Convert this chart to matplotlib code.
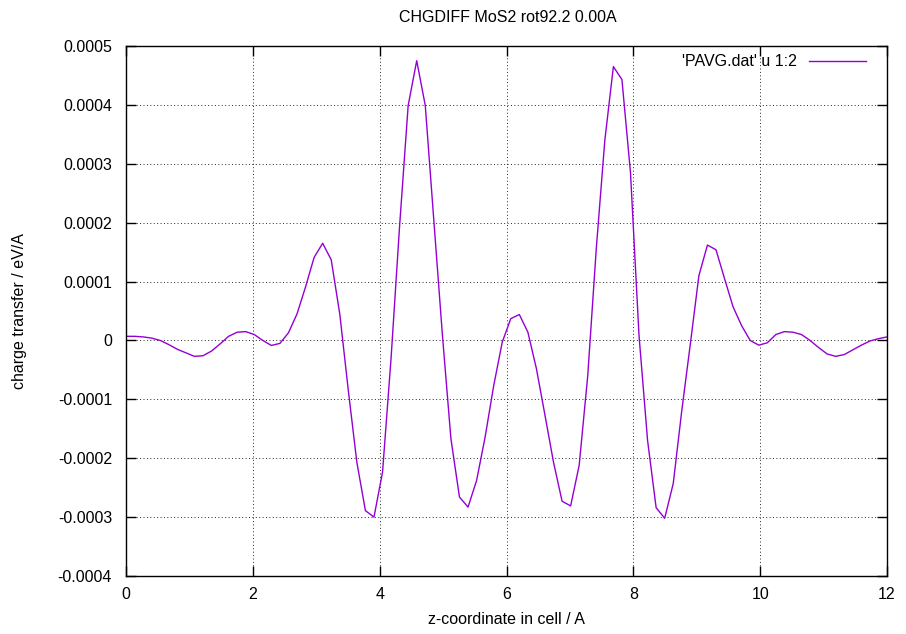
import numpy as np
import matplotlib
matplotlib.use("Agg")
import matplotlib.pyplot as plt

plt.rcParams['font.family'] = ['Liberation Sans', 'DejaVu Sans']

# planar-averaged charge difference, sampled on a uniform grid along z
n_points = 90
z_max = 12.0
charge_e4 = [
    0.07, 0.07, 0.06, 0.04, 0.0, -0.07, -0.15, -0.21, -0.27, -0.26,
    -0.18, -0.06, 0.07, 0.14, 0.15, 0.10, 0.0, -0.085, -0.05, 0.13,
    0.45, 0.91, 1.41, 1.65, 1.37, 0.45, -0.85, -2.07, -2.89, -3.0,
    -2.24, -0.3, 1.95, 3.99, 4.75, 3.99, 2.04, 0.1, -1.67, -2.66,
    -2.83, -2.38, -1.64, -0.77, -0.03, 0.37, 0.44, 0.14, -0.48, -1.27,
    -2.07, -2.73, -2.81, -2.12, -0.6, 1.56, 3.40, 4.65, 4.43, 2.85,
    0.08, -1.70, -2.84, -3.02, -2.43, -1.19, -0.06, 1.10, 1.62, 1.54,
    1.05, 0.57, 0.25, 0.0, -0.08, -0.04, 0.10, 0.15, 0.14, 0.10,
    0.0, -0.12, -0.23, -0.27, -0.24, -0.16, -0.08, -0.01, 0.03, 0.06,
]
z = np.arange(n_points) * z_max / (n_points - 1)
charge = np.array(charge_e4) * 1e-4

x_ticks = [0, 2, 4, 6, 8, 10, 12]
y_ticks = [-0.0004, -0.0003, -0.0002, -0.0001, 0, 0.0001, 0.0002, 0.0003, 0.0004, 0.0005]
y_tick_labels = ["-0.0004", "-0.0003", "-0.0002", "-0.0001", "0",
                 "0.0001", "0.0002", "0.0003", "0.0004", "0.0005"]

W, H = 906, 634
L, R, T, B = 126, 887, 46, 576
fs = 11.5

fig = plt.figure(figsize=(W / 100, H / 100), dpi=100)
ax = fig.add_axes([L / W, 1 - B / H, (R - L) / W, (B - T) / H])

ax.plot(z, charge, color='#9400D3', lw=1.0, label="'PAVG.dat' u 1:2")

ax.set_xlim(0, 12)
ax.set_ylim(-0.0004, 0.0005)
ax.set_xticks(x_ticks)
ax.set_xticklabels([str(t) for t in x_ticks])
ax.set_yticks(y_ticks)
ax.set_yticklabels(y_tick_labels)

ax.grid(True, color='black', linestyle=(0, (1, 2.5)), linewidth=0.7, alpha=0.85)
ax.tick_params(direction='in', length=7, width=1, top=True, right=True,
               labelsize=fs, colors='black')
ax.tick_params(axis='y', pad=10)
ax.tick_params(axis='x', pad=8)
for s in ax.spines.values():
    s.set_linewidth(1.0)
    s.set_color('black')

fig.text(0.5 * (L + R) / W + 0.002, 1 - 17 / H, "CHGDIFF MoS2 rot92.2 0.00A",
         ha='center', va='center', fontsize=fs)
ax.set_xlabel("z-coordinate in cell / A", fontsize=fs)
ax.xaxis.set_label_coords(0.5, (B - 620) / (B - T))
ax.xaxis.label.set_va('center')
ax.set_ylabel("charge transfer / eV/A", fontsize=fs)
ax.yaxis.set_label_coords((20 - L) / (R - L), 0.5)
ax.yaxis.label.set_va('center')

leg = ax.legend(loc='center right', frameon=False, markerfirst=False,
                handlelength=3.6, fontsize=fs, borderaxespad=0, borderpad=0,
                handletextpad=0.7,
                bbox_to_anchor=((866 - L) / (R - L), (B - 62) / (B - T)))

fig.savefig("out.png", dpi=100)
